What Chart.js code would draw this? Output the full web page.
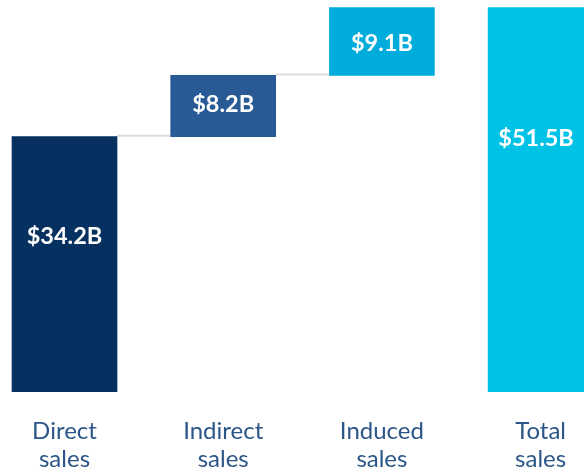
<!DOCTYPE html>
<html>
<head>
<meta charset="utf-8">
<script src="https://cdn.jsdelivr.net/npm/chart.js@4"></script>
<style>
  html, body { margin: 0; padding: 0; background: #ffffff; }
  #wrap { position: relative; width: 584px; height: 471px; }
</style>
</head>
<body>
<div id="wrap"><canvas id="c"></canvas></div>
<script>
// ---- data ----
const categories = [["Direct", "sales"], ["Indirect", "sales"], ["Induced", "sales"], ["Total", "sales"]];
const increments = [34.2, 8.2, 9.1];
const totalValue = 51.5;
const valueLabels = ["$34.2B", "$8.2B", "$9.1B", "$51.5B"];

// ---- styles ----
const barColors = ["#06305f", "#2a5a96", "#00acdc", "#00c2e6"];
const labelAnchor = [0.39, 0.47, 0.53, 0.34];

// floating ranges built from the increments (waterfall)
const ranges = [];
let run = 0;
increments.forEach(v => { ranges.push([run, +(run + v).toFixed(2)]); run += v; });
ranges.push([0, totalValue]);
const points = ranges.map((r, i) => ({ x: i, y: r }));

const connectorPlugin = {
  id: 'connectors',
  beforeDatasetsDraw(chart) {
    const meta = chart.getDatasetMeta(0);
    const ctx = chart.ctx;
    ctx.save();
    ctx.strokeStyle = '#dcdcdc';
    ctx.lineWidth = 2;
    for (let i = 0; i < increments.length - 1; i++) {
      const a = meta.data[i], b = meta.data[i + 1];
      const y = a.y - 1;
      ctx.beginPath();
      ctx.moveTo(a.x + a.width / 2, y);
      ctx.lineTo(b.x - b.width / 2, y);
      ctx.stroke();
    }
    ctx.restore();
  }
};

const valueLabelPlugin = {
  id: 'valueLabels',
  afterDatasetsDraw(chart) {
    const meta = chart.getDatasetMeta(0);
    const ctx = chart.ctx;
    ctx.save();
    ctx.fillStyle = '#ffffff';
    ctx.font = 'bold 23.5px Lato';
    ctx.textAlign = 'center';
    ctx.textBaseline = 'middle';
    meta.data.forEach((bar, i) => {
      const top = Math.min(bar.y, bar.base), bot = Math.max(bar.y, bar.base);
      let x = bar.x;
      const right = chart.chartArea.right;
      if (bar.x + bar.width / 2 > right) x = (bar.x - bar.width / 2 + right) / 2;
      ctx.fillText(valueLabels[i], x, top + labelAnchor[i] * (bot - top));
    });
    ctx.restore();
  }
};

new Chart(document.getElementById('c'), {
  type: 'bar',
  data: {
    datasets: [{
      data: points,
      backgroundColor: barColors,
      borderWidth: 0,
      barThickness: 105
    }]
  },
  options: {
    responsive: true,
    maintainAspectRatio: false,
    animation: false,
    layout: { padding: 0 },
    plugins: { legend: { display: false }, tooltip: { enabled: false } },
    scales: {
      x: {
        type: 'linear',
        offset: false,
        bounds: 'ticks',
        min: -0.4064,
        max: 3.2734,
        grid: { display: false, drawTicks: false, offset: false },
        border: { display: false },
        afterFit(scale) {
          scale.height = 79;
          scale.paddingLeft = 0;
          scale.paddingRight = 0;
        },
        ticks: {
          stepSize: 1,
          includeBounds: false,
          autoSkip: false,
          maxRotation: 0,
          padding: 25,
          color: '#2b5687',
          font: { family: 'Lato', size: 24, lineHeight: 1.17 },
          callback: (v) => Number.isInteger(v) && categories[v] ? categories[v] : ''
        }
      },
      y: {
        display: false,
        min: 0,
        max: 52.5
      }
    }
  },
  plugins: [connectorPlugin, valueLabelPlugin]
});
</script>
</body>
</html>
